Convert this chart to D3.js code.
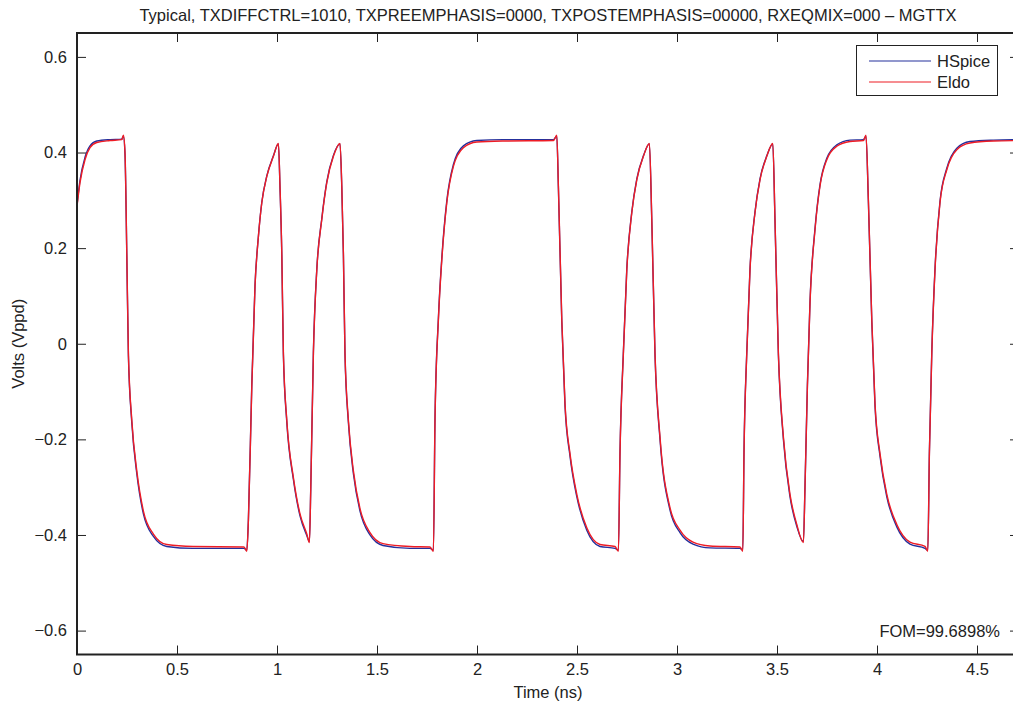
<!DOCTYPE html>
<html>
<head>
<meta charset="utf-8">
<script src="https://cdn.jsdelivr.net/npm/d3@7"></script>
<style>
  body { margin: 0; background: #fff; }
  svg text { font-family: "Liberation Sans", Arial, Helvetica, sans-serif; fill: #222; }
</style>
</head>
<body>
<svg id="chart" width="1013" height="704"></svg>
<script>
var titleText = 'Typical, TXDIFFCTRL=1010, TXPREEMPHASIS=0000, TXPOSTEMPHASIS=00000, RXEQMIX=000 \u2013 MGTTX';
var xLabel = 'Time (ns)';
var yLabel = 'Volts (Vppd)';
var fomText = 'FOM=99.6898%';
var seriesNames = ['HSpice', 'Eldo'];

var xTicks = [0, 0.5, 1, 1.5, 2, 2.5, 3, 3.5, 4, 4.5];
var yTicks = [-0.6, -0.4, -0.2, 0, 0.2, 0.4, 0.6];

// time samples (ns)
var timeNs = [
  0.000, 0.015, 0.040, 0.065, 0.099, 0.165, 0.224, 0.232, 0.240, 0.249,
  0.257, 0.274, 0.299, 0.332, 0.382, 0.449, 0.580, 0.835, 0.849, 0.857,
  0.874, 0.890, 0.907, 0.924, 0.949, 0.982, 1.007, 1.015, 1.024, 1.032,
  1.049, 1.082, 1.115, 1.149, 1.162, 1.169, 1.182, 1.199, 1.224, 1.249,
  1.282, 1.315, 1.324, 1.332, 1.340, 1.357, 1.382, 1.415, 1.465, 1.530,
  1.665, 1.765, 1.782, 1.790, 1.807, 1.824, 1.849, 1.882, 1.932, 1.999,
  2.130, 2.382, 2.399, 2.407, 2.424, 2.440, 2.465, 2.499, 2.549, 2.615,
  2.690, 2.707, 2.715, 2.732, 2.749, 2.774, 2.799, 2.832, 2.862, 2.874,
  2.890, 2.915, 2.965, 3.015, 3.080, 3.165, 3.315, 3.329, 3.335, 3.349,
  3.365, 3.390, 3.415, 3.449, 3.479, 3.490, 3.507, 3.532, 3.565, 3.599,
  3.632, 3.640, 3.652, 3.665, 3.690, 3.715, 3.749, 3.799, 3.865, 3.932,
  3.945, 3.957, 3.974, 3.990, 4.015, 4.049, 4.099, 4.165, 4.240, 4.254,
  4.262, 4.274, 4.290, 4.315, 4.349, 4.399, 4.465, 4.582, 4.710
];

var eldoV = [
  0.287, 0.337, 0.385, 0.410, 0.421, 0.425, 0.427, 0.436, 0.400, 0.190,
  -0.020, -0.160, -0.266, -0.350, -0.398, -0.420, -0.424, -0.425, -0.434, -0.370,
  -0.090, 0.120, 0.224, 0.295, 0.350, 0.392, 0.419, 0.330, 0.190, -0.020,
  -0.160, -0.280, -0.356, -0.398, -0.416, -0.300, -0.020, 0.154, 0.260, 0.337,
  0.392, 0.419, 0.330, 0.190, -0.020, -0.160, -0.266, -0.345, -0.395, -0.418,
  -0.424, -0.425, -0.434, -0.160, 0.050, 0.175, 0.295, 0.371, 0.410, 0.422,
  0.424, 0.425, 0.436, 0.330, 0.050, -0.125, -0.230, -0.315, -0.385, -0.420,
  -0.424, -0.434, -0.230, -0.020, 0.154, 0.274, 0.343, 0.392, 0.419, 0.260,
  -0.020, -0.195, -0.343, -0.390, -0.415, -0.423, -0.425, -0.434, -0.230, -0.020,
  0.154, 0.274, 0.343, 0.392, 0.419, 0.260, -0.020, -0.195, -0.315, -0.378,
  -0.416, -0.300, -0.090, 0.085, 0.238, 0.330, 0.385, 0.413, 0.423, 0.425,
  0.436, 0.300, 0.050, -0.125, -0.230, -0.315, -0.378, -0.415, -0.424, -0.434,
  -0.230, -0.020, 0.154, 0.295, 0.364, 0.406, 0.420, 0.424, 0.425
];

var hspiceV = [
  0.290, 0.342, 0.390, 0.414, 0.424, 0.427, 0.428, 0.434, 0.396, 0.185,
  -0.025, -0.165, -0.272, -0.356, -0.403, -0.424, -0.428, -0.428, -0.432, -0.368,
  -0.085, 0.122, 0.225, 0.296, 0.351, 0.393, 0.418, 0.326, 0.186, -0.024,
  -0.164, -0.284, -0.360, -0.401, -0.414, -0.298, -0.016, 0.156, 0.262, 0.339,
  0.394, 0.418, 0.326, 0.186, -0.024, -0.165, -0.272, -0.350, -0.400, -0.422,
  -0.428, -0.428, -0.432, -0.156, 0.054, 0.179, 0.299, 0.375, 0.414, 0.425,
  0.427, 0.427, 0.434, 0.326, 0.046, -0.130, -0.235, -0.320, -0.390, -0.424,
  -0.428, -0.432, -0.226, -0.016, 0.157, 0.276, 0.345, 0.393, 0.418, 0.256,
  -0.024, -0.200, -0.348, -0.395, -0.419, -0.427, -0.428, -0.432, -0.226, -0.016,
  0.157, 0.276, 0.345, 0.393, 0.418, 0.256, -0.024, -0.200, -0.320, -0.382,
  -0.414, -0.298, -0.086, 0.088, 0.241, 0.333, 0.388, 0.416, 0.426, 0.427,
  0.434, 0.296, 0.046, -0.130, -0.235, -0.320, -0.383, -0.419, -0.428, -0.432,
  -0.226, -0.016, 0.157, 0.298, 0.367, 0.409, 0.423, 0.426, 0.427
];

var seriesColors = ['#25309c', '#ee1c25'];
var fontSize = '16.5px';

var svg = d3.select('#chart');
var plotLeft = 77, plotRight = 1019, plotTop = 33, plotBottom = 654.5;

var xScale = d3.scaleLinear().domain([0, 4.71]).range([plotLeft, plotRight]);
var yScale = d3.scaleLinear().domain([-0.65, 0.65]).range([plotBottom, plotTop]);

svg.append('defs').append('clipPath')
    .attr('id', 'plot-clip')
  .append('rect')
    .attr('x', plotLeft).attr('y', plotTop)
    .attr('width', plotRight - plotLeft).attr('height', plotBottom - plotTop);

// data lines, HSpice under Eldo
var seriesData = [hspiceV, eldoV];
var line = d3.line()
    .x(d => xScale(d[0]))
    .y(d => yScale(d[1]))
    .curve(d3.curveMonotoneX);

svg.append('g')
    .attr('clip-path', 'url(#plot-clip)')
  .selectAll('path')
  .data(seriesData)
  .enter()
  .append('path')
    .attr('d', vals => line(timeNs.map((t, i) => [t, vals[i]])))
    .attr('fill', 'none')
    .attr('stroke', (d, i) => seriesColors[i])
    .attr('stroke-width', 1.4)
    .attr('stroke-linejoin', 'round');

// axes, MATLAB style: inward ticks on all four sides
var tickLen = 9;
var fmt = v => v === 0 ? '0' : (v < 0 ? '\u2212' + Math.abs(v) : String(v));

var xAxis = d3.axisBottom(xScale).tickValues(xTicks).tickFormat(fmt)
    .tickSizeInner(-tickLen).tickSizeOuter(0).tickPadding(9);
var yAxis = d3.axisLeft(yScale).tickValues(yTicks).tickFormat(fmt)
    .tickSizeInner(-tickLen).tickSizeOuter(0).tickPadding(10);

function styleAxis(g) {
  g.select('.domain').remove();
  g.selectAll('.tick line').attr('stroke', '#222').attr('stroke-width', 1);
  g.selectAll('.tick text')
    .style('font-family', '"Liberation Sans", Arial, sans-serif')
    .style('font-size', fontSize)
    .attr('fill', '#222');
}

svg.append('g')
    .attr('transform', `translate(0, ${plotBottom})`)
    .call(xAxis).call(styleAxis);
svg.append('g')
    .attr('transform', `translate(${plotLeft}, 0)`)
    .call(yAxis).call(styleAxis);
svg.append('g')
    .attr('transform', `translate(0, ${plotTop})`)
    .call(d3.axisTop(xScale).tickValues(xTicks).tickFormat('').tickSizeInner(-tickLen).tickSizeOuter(0))
    .call(styleAxis);
svg.append('g')
    .attr('transform', `translate(${plotRight}, 0)`)
    .call(d3.axisRight(yScale).tickValues(yTicks).tickFormat('').tickSizeInner(-tickLen).tickSizeOuter(0))
    .call(styleAxis);

svg.append('rect')
    .attr('x', plotLeft).attr('y', plotTop)
    .attr('width', plotRight - plotLeft).attr('height', plotBottom - plotTop)
    .attr('fill', 'none')
    .attr('stroke', '#222')
    .attr('stroke-width', 2);

// titles
svg.append('text')
    .attr('x', (plotLeft + plotRight) / 2)
    .attr('y', 21)
    .attr('text-anchor', 'middle')
    .style('font-size', fontSize)
    .text(titleText);

svg.append('text')
    .attr('x', (plotLeft + plotRight) / 2)
    .attr('y', 698)
    .attr('text-anchor', 'middle')
    .style('font-size', fontSize)
    .text(xLabel);

svg.append('text')
    .attr('transform', `translate(24, ${yScale(0)}) rotate(-90)`)
    .attr('text-anchor', 'middle')
    .style('font-size', fontSize)
    .text(yLabel);

svg.append('text')
    .attr('x', 1000)
    .attr('y', yScale(-0.6) + 6)
    .attr('text-anchor', 'end')
    .style('font-size', fontSize)
    .text(fomText);

// legend
var legend = svg.append('g');
legend.append('rect')
    .attr('x', 856.5).attr('y', 45.5)
    .attr('width', 141).attr('height', 50)
    .attr('fill', '#fff')
    .attr('stroke', '#222')
    .attr('stroke-width', 1);

var legendRows = legend.selectAll('.row')
  .data(seriesNames)
  .enter()
  .append('g')
    .attr('transform', (d, i) => `translate(0, ${61 + i * 21})`);

legendRows.append('line')
    .attr('x1', 869).attr('x2', 931)
    .attr('stroke', (d, i) => seriesColors[i])
    .attr('stroke-width', 1.2);

legendRows.append('text')
    .attr('x', 937)
    .attr('y', 6)
    .style('font-size', fontSize)
    .text(d => d);
</script>
</body>
</html>
